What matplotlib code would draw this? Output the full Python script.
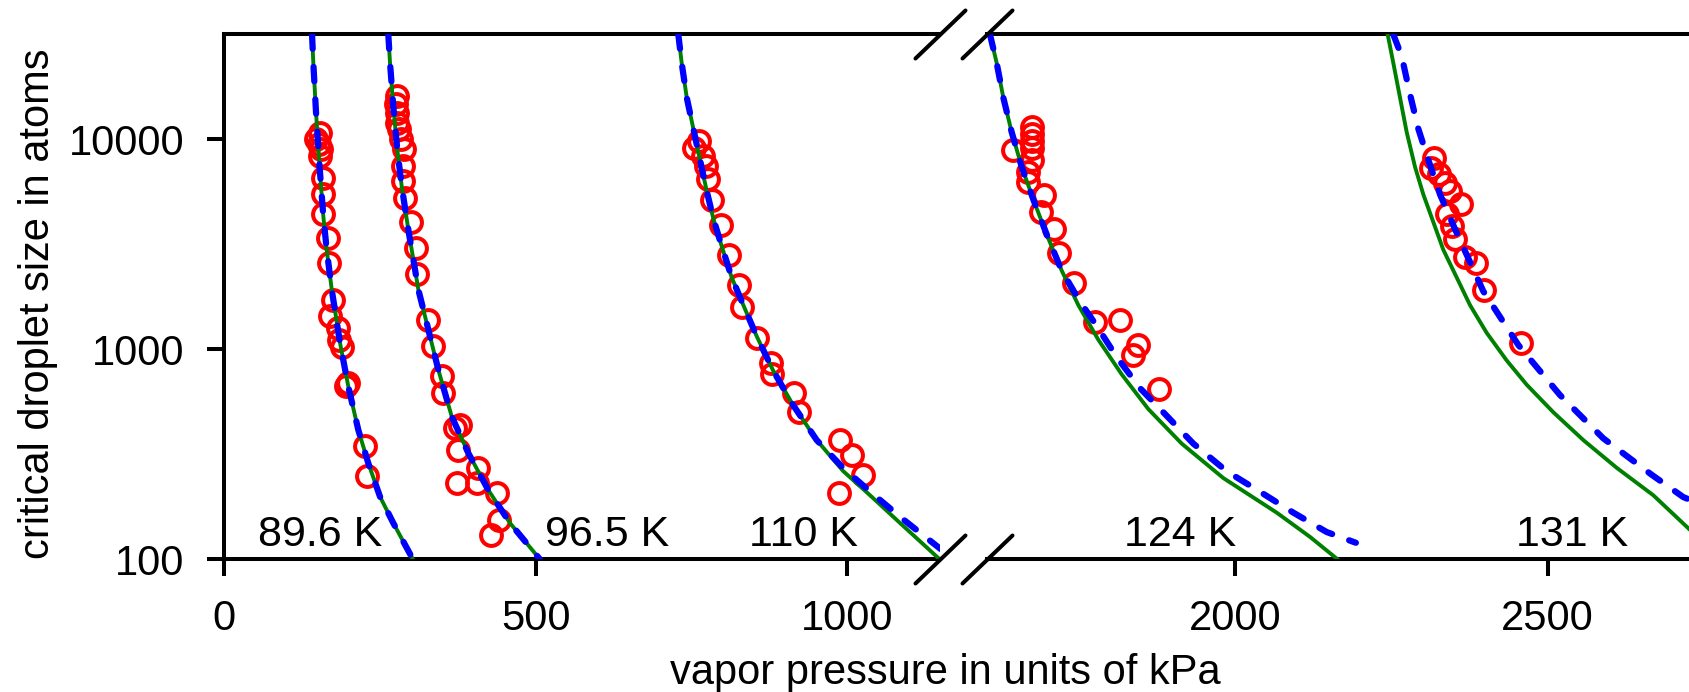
import matplotlib
matplotlib.use("Agg")
import matplotlib.pyplot as plt
from matplotlib.markers import MarkerStyle

plt.rcParams['font.family'] = ['Liberation Sans', 'DejaVu Sans']

# ---------------- data ----------------
temps = ["89.6 K", "96.5 K", "110 K", "124 K", "131 K"]
label_x = [154, 615, 930, 1912, 2539]
label_y = 116

# green solid model curves
g896_x = [141, 143.0, 147.4, 153.8, 159.1, 164.5, 172.6, 185.9, 199.2, 215.2, 231.3, 250.1, 271.4, 303]
g896_y = [31600, 23250, 13425, 6946, 4312, 2991, 1928, 1074, 666, 414, 287, 199, 149, 100]
g965_x = [263.4, 266.1, 271.4, 277.8, 284.9, 295.5, 306.3, 311.6, 325.0, 343.7, 365.2, 391.8, 423.9, 458.7, 506.9]
g965_y = [31600, 23250, 14430, 8971, 5993, 3725, 2401, 1928, 1337, 800, 479, 321, 214, 149, 100]
g110_x = [728.9, 734.3, 742.4, 753.0, 763.7, 774.5, 785.1, 798.6, 814.6, 833.2, 854.7, 881.4, 913.5, 951.0, 993.7, 1036.6, 1084.8, 1147]
g110_y = [31600, 23120, 15826, 11246, 7991, 5680, 4196, 3097, 2201, 1626, 1155, 790, 541, 370, 263, 202, 149, 101]
g124_x = [1607.7, 1618.4, 1629.0, 1642.4, 1658.4, 1678.1, 1699.4, 1722.4, 1749.0, 1781.0, 1818.4, 1861.0, 1914.4, 1981.0, 2066.4, 2119.7, 2164]
g124_y = [31600, 23120, 15826, 10834, 7408, 5073, 3469, 2375, 1626, 1112, 761, 520, 356, 244, 167, 128, 100]
g131_x = [2244.0, 2253.0, 2263.7, 2274.4, 2287.7, 2301.0, 2317.0, 2333.0, 2354.4, 2375.7, 2402.4, 2434.4, 2466.4, 2509.0, 2557.0, 2610.4, 2669.0, 2728]
g131_y = [31600, 23120, 15826, 10834, 7408, 5472, 4041, 2982, 2201, 1626, 1199, 886, 679, 502, 370, 273, 202, 138]

# blue dashed model curves
b896_x = list(g896_x)
b896_y = list(g896_y)
b965_x = list(g965_x)
b965_y = list(g965_y)
b110_x = [728.9, 734.3, 742.4, 753.0, 763.7, 774.5, 785.1, 798.6, 814.6, 833.2, 854.7, 881.4, 913.5, 951.0, 993.7, 1041.9, 1090.0, 1150]
b110_y = [31600, 23120, 15826, 11246, 7991, 5680, 4196, 3097, 2201, 1626, 1155, 790, 541, 370, 272, 204, 155, 112]
b124_x = [1607.7, 1618.4, 1629.0, 1642.4, 1658.4, 1678.1, 1699.4, 1722.4, 1751.7, 1778.4, 1810.4, 1847.7, 1890.4, 1933.0, 1986.4, 2039.7, 2093.0, 2146.4, 2193.1]
b124_y = [31600, 23120, 15826, 10834, 7408, 5073, 3469, 2375, 1688, 1294, 920, 654, 483, 356, 263, 210, 167, 135, 120]
b131_x = [2253.0, 2266.4, 2279.7, 2293.0, 2309.0, 2327.7, 2351.7, 2397.0, 2453.0, 2519.7, 2589.0, 2666.4, 2717.0, 2728]
b131_y = [31600, 24930, 16428, 11234, 7991, 5472, 3742, 1892, 1050, 606, 377, 253, 198, 192]

# red circles: simulation data
d896_x = [153.8, 147.4, 152.6, 154.9, 153.8, 159.1, 158.1, 159.1, 166.1, 168.7, 175.1, 169.8, 183.1, 184.7, 188.6, 199.0, 195.5, 226.0, 229.7]
d896_y = [10693, 10012, 9476, 8971, 8332, 6574, 5472, 4392, 3401, 2585, 1727, 1449, 1266, 1113, 1027, 694, 667, 348, 250]
d965_x = [277.8, 275.8, 277.8, 276.9, 280.1, 283.3, 288.6, 286.5, 287.5, 290.7, 299.4, 307.4, 309.0, 327.6, 335.6, 349.1, 351.7,
          378.5, 370.5, 375.8, 407.9, 373.2, 405.3, 437.4, 441.6, 427.8]
d965_y = [16106, 14702, 13425, 12026, 11174, 10012, 9039, 7467, 6332, 5277, 4036, 3047, 2298, 1387, 1042, 750, 620,
          438, 423, 333, 272, 232, 231, 207, 154, 131]
d110_x = [762.1, 753.3, 769.3, 772.6, 776.9, 782.5, 797.4, 810.9, 826.0, 831.6, 854.4, 877.0, 879.0, 914.6, 923.3, 988.3, 1006.9, 1026.0, 987.3]
d110_y = [9847, 9071, 8352, 7482, 6451, 5123, 3913, 2816, 2032, 1594, 1135, 863, 764, 617, 502, 370, 315, 253, 206]
d124_x = [1674.4, 1674.4, 1674.4, 1674.4, 1645.0, 1674.4, 1669.0, 1669.0, 1694.1, 1689.3, 1710.1, 1718.6, 1742.6, 1775.7, 1815.7, 1845.0, 1836.0, 1878.6]
d124_y = [11458, 10622, 9847, 9127, 8892, 7991, 6998, 6249, 5430, 4524, 3742, 2872, 2079, 1345, 1380, 1050, 938, 646]
d131_x = [2317.6, 2312.6, 2326.1, 2336.0, 2343.7, 2361.3, 2339.5, 2347.4, 2352.2, 2367.2, 2386.1, 2398.1, 2457.8]
d131_y = [8170, 7328, 6809, 6181, 5705, 4902, 4397, 3850, 3367, 2767, 2570, 1911, 1068]

y_ticks = [100, 1000, 10000]
y_ticklabels = ["100", "1000", "10000"]
xL_ticks = [0, 500, 1000]
xR_ticks = [2000, 2500]
xL_lim = (0, 1148.6)
xR_lim = (1603.4, 2727.7)
y_lim = (100, 31623)

green_curves = [(g896_x, g896_y), (g965_x, g965_y), (g110_x, g110_y), (g124_x, g124_y), (g131_x, g131_y)]
blue_curves = [(b896_x, b896_y), (b965_x, b965_y), (b110_x, b110_y), (b124_x, b124_y), (b131_x, b131_y)]
points = [(d896_x, d896_y), (d965_x, d965_y), (d110_x, d110_y), (d124_x, d124_y), (d131_x, d131_y)]

# ---------------- figure ----------------
W, H = 1690, 692
fig = plt.figure(figsize=(W / 100, H / 100), dpi=100)
bottom = 1 - 559.4 / H
height = 525.0 / H
axL = fig.add_axes([224.2 / W, bottom, (939.8 - 224.2) / W, height])
axR = fig.add_axes([987.3 / W, bottom, (W - 987.3) / W, height])

FS = 30
SPINE_W = 2.9

for ax in (axL, axR):
    ax.set_yscale('log')
    for xs, ys in points:
        ax.plot(xs, ys, linestyle='none', marker='o', ms=15, mfc='none',
                mec='#ff0000', mew=2.9, zorder=2)
    for xs, ys in green_curves:
        ax.plot(xs, ys, color='#008000', lw=2.8, zorder=3,
                solid_joinstyle='round')
    for xs, ys in blue_curves:
        ax.plot(xs, ys, color='#0000ff', lw=4.5, dashes=(2.3, 2.9),
                dash_capstyle='round', dash_joinstyle='round', zorder=4)
    ax.set_ylim(*y_lim)
    ax.minorticks_off()
    for s in ax.spines.values():
        s.set_linewidth(SPINE_W)
    ax.tick_params(axis='both', which='major', direction='out', length=12,
                   width=SPINE_W, labelsize=FS, pad=16.5)
    ax.tick_params(axis='y', which='minor', left=False, right=False)
    ax.set_facecolor('none')

axL.set_xlim(*xL_lim)
axR.set_xlim(*xR_lim)
axL.set_xticks(xL_ticks)
axL.set_xticklabels([str(v) for v in xL_ticks])
axR.set_xticks(xR_ticks)
axR.set_xticklabels([str(v) for v in xR_ticks])
axL.set_yticks(y_ticks)
axL.set_yticklabels(y_ticklabels)
axL.minorticks_off()
axR.minorticks_off()
axR.tick_params(axis='y', which='both', left=False, right=False, labelleft=False)
axL.spines['right'].set_visible(False)
axR.spines['left'].set_visible(False)
axR.spines['right'].set_visible(False)

# labels for temperatures
for i, t in enumerate(temps):
    ax = axL if label_x[i] < 1200 else axR
    ax.text(label_x[i], label_y, t, fontsize=31, ha='center', va='baseline', zorder=1)

# break marks
slash = MarkerStyle([(-1, -0.96), (1, 0.96)], capstyle='round')
kw = dict(marker=slash, markersize=36, linestyle='none', color='k', mec='k',
          mew=2.9, clip_on=False, zorder=10)
axL.plot([1, 1], [0, 1], transform=axL.transAxes, **kw)
axR.plot([0, 0], [0, 1], transform=axR.transAxes, **kw)

# axis labels
fig.text(945.5 / W, (H - 684) / H, "vapor pressure in units of kPa", fontsize=FS,
         ha='center', va='baseline')
fig.text(38 / W, 1 - 304 / H, "critical droplet size in atoms", fontsize=FS,
         rotation=90, ha='center', va='center')

fig.savefig("out.png", dpi=100, facecolor='white')
